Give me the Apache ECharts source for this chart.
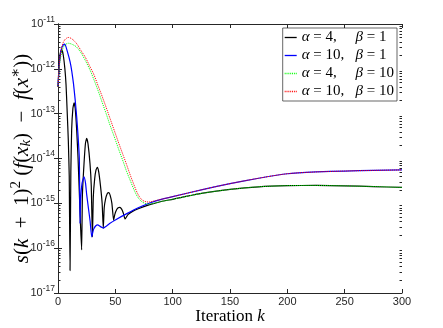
<!DOCTYPE html>
<html><head><meta charset="utf-8">
<script src="https://cdn.jsdelivr.net/npm/echarts@6/dist/echarts.min.js"></script>
<style>html,body{margin:0;padding:0;background:#fff}#c{width:443px;height:328px}</style>
</head><body><div id="c"></div>
<script>
// ---- data ----
const alphaVals = ['4', '10', '4', '10'];
const betaVals  = ['1', '1', '10', '10'];
const seriesNames = ['α = 4, β = 1', 'α = 10, β = 1', 'α = 4, β = 10', 'α = 10, β = 10'];
const seriesColors = ['#000000', '#0000ff', '#00ff00', '#ff0000'];

const kBlack = [0,1,2,3.2,4.5,6,7,8,9,9.8,10.5,11.2,11.9,13,14,15,16.3,17.5,18.5,19.5,20.6,21.3,22.7,24,25,26.2,27.9,29,30,30.8,32,33.2,34.3,35.5,37,38.5,39.5,40.3,41.5,43,44.3,45.5,47,48.5,49.5,51,52.5,54,55.5,57,58.5,61,65,70,80,90,100,125,150,175,200,225,250,275,300];
const vBlack = [3.98e-13,1.26e-12,2.24e-12,2.69e-12,2.09e-12,1.0e-12,4.47e-13,1.12e-13,2.51e-14,3.98e-15,3.16e-17,5.01e-15,4.27e-14,1.32e-13,1.74e-13,1.32e-13,4.27e-14,1.0e-14,2.0e-15,3.98e-16,9.12e-17,1.58e-15,7.76e-15,2.24e-14,2.82e-14,2.09e-14,7.76e-15,2.51e-15,1.78e-16,1.41e-15,3.55e-15,5.62e-15,6.31e-15,5.01e-15,2.51e-15,1.0e-15,2.75e-16,7.94e-16,1.26e-15,1.66e-15,1.74e-15,1.51e-15,1.0e-15,4.17e-16,5.62e-16,7.08e-16,7.94e-16,8.13e-16,7.41e-16,6.03e-16,4.47e-16,5.62e-16,6.61e-16,7.59e-16,9.33e-16,1.10e-15,1.23e-15,1.66e-15,2.04e-15,2.34e-15,2.48e-15,2.51e-15,2.45e-15,2.37e-15,2.26e-15];

const kBlue = [0,1,2,3,4.5,6,8,10.5,12,13.5,15,16.3,17.5,18.6,19.2,19.8,21,22.7,24,25,26.5,28,29.4,31,33,34.6,37,39.5,45,50,60,70,80,90,100,125,150,175,200,225,250,275,300];
const vBlue = [3.98e-13,1.12e-12,2.0e-12,2.82e-12,3.39e-12,3.55e-12,2.51e-12,1.45e-12,8.91e-13,4.68e-13,2.0e-13,8.51e-14,3.16e-14,1.0e-14,3.55e-16,1.26e-15,2.82e-15,3.89e-15,2.82e-15,1.58e-15,7.94e-16,3.98e-16,1.78e-16,2.63e-16,3.16e-16,3.31e-16,3.02e-16,2.82e-16,3.55e-16,4.27e-16,5.89e-16,7.94e-16,1.02e-15,1.23e-15,1.41e-15,2.0e-15,2.75e-15,3.63e-15,4.57e-15,5.01e-15,5.25e-15,5.43e-15,5.56e-15];

const kGreen = [0,1,2,4,6,9,12,16,20,24,28,31,35,38,42,45,49,53,57,60,63,66,69,72,75,79,85,90,100,125,150,175,200,225,250,275,300];
const vGreen = [3.98e-13,1.0e-12,1.66e-12,2.75e-12,3.39e-12,3.72e-12,3.55e-12,3.09e-12,2.29e-12,1.51e-12,9.33e-13,6.03e-13,3.24e-13,1.95e-13,1.0e-13,5.89e-14,3.09e-14,1.58e-14,8.32e-15,5.01e-15,3.24e-15,2.09e-15,1.45e-15,1.15e-15,1.02e-15,9.55e-16,1.02e-15,1.10e-15,1.23e-15,1.66e-15,2.04e-15,2.34e-15,2.48e-15,2.51e-15,2.45e-15,2.37e-15,2.26e-15];

const kRed = [0,1,2,4,6,9,12,16,20,24,28,31,35,38,42,45,49,53,57,60,63,66,69,72,75,79,85,90,100,125,150,175,200,225,250,275,300];
const vRed = [3.98e-13,1.12e-12,2.0e-12,3.55e-12,4.47e-12,5.01e-12,4.68e-12,3.72e-12,2.57e-12,1.78e-12,1.10e-12,7.76e-13,4.17e-13,2.63e-13,1.38e-13,8.32e-14,4.27e-14,2.19e-14,1.15e-14,7.08e-15,4.27e-15,2.69e-15,1.74e-15,1.29e-15,1.12e-15,1.07e-15,1.15e-15,1.23e-15,1.41e-15,2.0e-15,2.75e-15,3.63e-15,4.57e-15,5.01e-15,5.25e-15,5.43e-15,5.56e-15];

const xTicks = [0, 50, 100, 150, 200, 250, 300];
const yMinExp = -17, yMaxExp = -11;

// ---- build ----
const zip = (ks, vs) => ks.map((k, i) => [k, vs[i]]);
const minorVals = [];
for (let e = yMinExp; e < yMaxExp; e++) for (let m = 2; m <= 9; m++) minorVals.push([0, m * Math.pow(10, e)]);

const AX = '#262626';
const serif = '"Liberation Serif", "DejaVu Serif", serif';
const sans = '"Liberation Sans", Arial, sans-serif';
const solidIcon = 'path://M0,0h24v2.6h-24z';
const dotIcon = 'path://M0,0h1v1.6h-1zM2,0h1v1.6h-1zM4,0h1v1.6h-1zM6,0h1v1.6h-1zM8,0h1v1.6h-1zM10,0h1v1.6h-1zM12,0h1v1.6h-1z';

const chart = echarts.init(document.getElementById('c'), null, {renderer: 'canvas'});
const lineSeries = (i, ks, vs, type, width) => ({
  name: seriesNames[i], type: 'line', data: zip(ks, vs), showSymbol: false, symbol: 'none',
  xAxisIndex: 0, yAxisIndex: 0, z: 2 + i, silent: true, animation: false,
  smooth: type === 'solid' ? 0.15 : 0.3,
  lineStyle: {color: seriesColors[i], width, type}, itemStyle: {color: seriesColors[i]}
});

const yAxisBase = {
  type: 'log', logBase: 10, min: Math.pow(10, yMinExp), max: Math.pow(10, yMaxExp),
  splitNumber: 6, splitLine: {show: false},
  axisLine: {show: true, lineStyle: {color: AX, width: 1}},
  axisTick: {show: true, inside: true, length: 4, lineStyle: {color: AX}},
  minorTick: {show: false}
};
const xAxisBase = {
  type: 'value', min: xTicks[0], max: xTicks[xTicks.length - 1], interval: 50,
  splitLine: {show: false},
  axisLine: {show: true, onZero: false, lineStyle: {color: AX, width: 1}},
  axisTick: {show: true, inside: true, length: 4, lineStyle: {color: AX}}
};

chart.setOption({
  animation: false,
  backgroundColor: '#fff',
  grid: {left: 58, right: 41, top: 24, bottom: 35, containLabel: false, outerBoundsMode: 'none'},
  xAxis: [
    Object.assign({}, xAxisBase, {
      position: 'bottom',
      axisLabel: {color: AX, fontFamily: sans, fontSize: 11, margin: 3,
        formatter: v => xTicks.includes(v) ? String(v) : ''},
      name: '{r|Iteration }{i|k}', nameLocation: 'middle', nameGap: 15, nameMoveOverlap: false,
      nameTextStyle: {rich: {
        r: {fontFamily: serif, fontSize: 17, color: '#000'},
        i: {fontFamily: serif, fontSize: 17, fontStyle: 'italic', color: '#000'}
      }}
    }),
    Object.assign({}, xAxisBase, {position: 'top', axisLabel: {show: false}})
  ],
  yAxis: [
    Object.assign({}, yAxisBase, {
      position: 'left',
      axisLabel: {color: AX, margin: 3,
        formatter: v => '{b|10}{s|' + Math.round(Math.log10(v)) + '}',
        rich: {
          b: {fontFamily: sans, fontSize: 11, color: AX},
          s: {fontFamily: sans, fontSize: 8.5, color: AX, padding: [0, 0, 9, 0]}
        }},
      name: '{i|s}{r|(}{i|k}{r|  +  1)}{p|2}{r| (}{i|f}{r|(}{i|x}{q|k}{r|)  −  }{i|f}{r|(}{i|x}{p|∗}{r|))}',
      nameLocation: 'middle', nameRotate: 90, nameGap: 23, nameMoveOverlap: false,
      nameTextStyle: {rich: {
        r: {fontFamily: serif, fontSize: 21, color: '#000'},
        i: {fontFamily: serif, fontSize: 21, fontStyle: 'italic', color: '#000'},
        p: {fontFamily: serif, fontSize: 15, color: '#000', padding: [0, 0, 11, 0]},
        q: {fontFamily: serif, fontSize: 15, fontStyle: 'italic', color: '#000', padding: [9, 0, 0, 0]}
      }}
    }),
    Object.assign({}, yAxisBase, {position: 'right', axisLabel: {show: false}})
  ],
  legend: {
    show: true, orient: 'vertical', right: 46, top: 28,
    data: seriesNames.map((n, i) => ({name: n, icon: i < 2 ? solidIcon : dotIcon,
      itemStyle: {color: seriesColors[i], borderColor: seriesColors[i], borderWidth: 0}})),
    backgroundColor: '#fff', borderColor: AX, borderWidth: 0.7,
    padding: [2, 3, 2, 2], itemGap: 3, itemWidth: 12, itemHeight: 14,
    selectedMode: false,
    formatter: name => {
      const i = seriesNames.indexOf(name);
      return '{g|α}{c| = ' + alphaVals[i] + ',}{g|β}{n| = ' + betaVals[i] + '}';
    },
    textStyle: {
      lineHeight: 15,
      rich: {
        g: {fontFamily: serif, fontSize: 15, fontStyle: 'italic', color: '#000'},
        c: {fontFamily: serif, fontSize: 15, color: '#000', width: 46},
        n: {fontFamily: serif, fontSize: 15, color: '#000'}
      }
    }
  },
  series: [
    lineSeries(0, kBlack, vBlack, 'solid', 1.2),
    lineSeries(1, kBlue, vBlue, 'solid', 1.2),
    lineSeries(2, kGreen, vGreen, 'dotted', 1),
    lineSeries(3, kRed, vRed, 'dotted', 1),
    {
      type: 'custom', silent: true, xAxisIndex: 0, yAxisIndex: 0, z: 1,
      data: minorVals, encode: {x: 0, y: 1}, clip: false,
      renderItem: (params, api) => {
        const pl = api.coord([xTicks[0], api.value(1)]);
        const pr = api.coord([xTicks[xTicks.length - 1], api.value(1)]);
        const st = {stroke: AX, lineWidth: 1};
        return {type: 'group', children: [
          {type: 'line', shape: {x1: pl[0], y1: Math.round(pl[1]) + 0.5, x2: pl[0] + 2.5, y2: Math.round(pl[1]) + 0.5}, style: st},
          {type: 'line', shape: {x1: pr[0] - 2.5, y1: Math.round(pr[1]) + 0.5, x2: pr[0], y2: Math.round(pr[1]) + 0.5}, style: st}
        ]};
      }
    }
  ]
});
</script></body></html>
